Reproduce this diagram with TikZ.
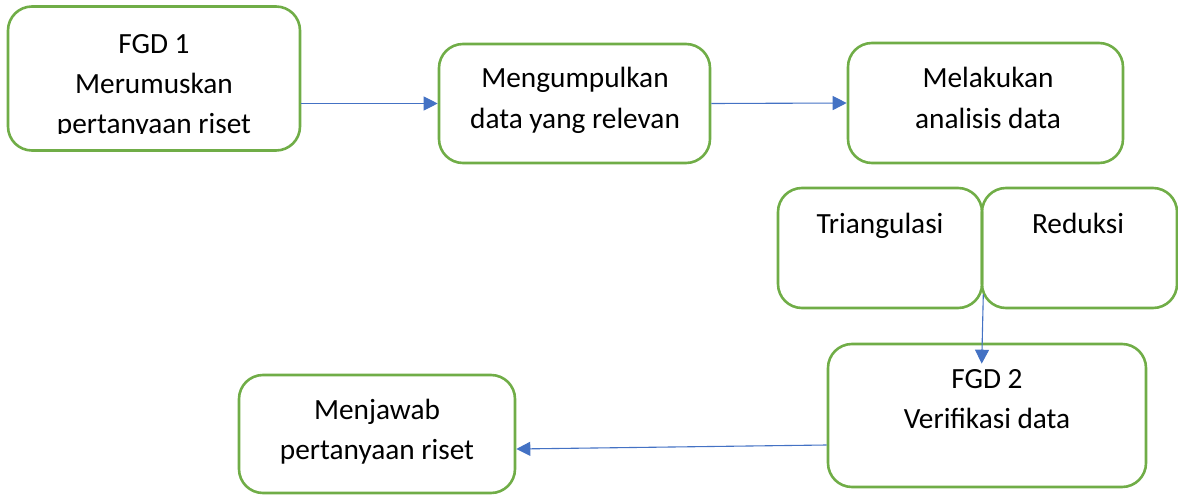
\documentclass[tikz,border=0pt]{standalone}
\usepackage{fontspec}
\setmainfont{Carlito}
\usetikzlibrary{arrows.meta,calc}
\definecolor{boxgreen}{HTML}{70AD47}
\definecolor{flowblue}{HTML}{4472C4}
\begin{document}
\begin{tikzpicture}[x=1pt,y=-1pt,
  stepbox/.style={draw=boxgreen, line width=2.6pt, rounded corners=24pt, inner sep=0pt},
  % anchored at the baseline of the last line
  label text/.style={anchor=base, align=center, inner sep=0pt,
    font=\fontsize{29.3}{40}\selectfont},
  flow/.style={draw=flowblue, line width=1.1pt, -{Triangle[length=14pt,width=14pt]}}]
\useasboundingbox (0,0) rectangle (1178,495);

% boxes
\node (fgd1) [stepbox, minimum width=292pt, minimum height=144pt] at (154,78.5) {};
\node (collect) [stepbox, minimum width=271pt, minimum height=119pt] at (574.5,103.5) {};
\node (analyse) [stepbox, minimum width=275pt, minimum height=120pt] at (985.5,103) {};
\node (tri) [stepbox, minimum width=204pt, minimum height=120pt] at (880,248) {};
\node (red) [stepbox, minimum width=195pt, minimum height=120pt] at (1079.5,248) {};
\node (fgd2) [stepbox, minimum width=318pt, minimum height=143pt] at (987,415.5) {};
\node (answer) [stepbox, minimum width=276pt, minimum height=118pt] at (377,434) {};

% texts (the first box overflows and is cut at its third line)
\begin{scope}
  \clip (0,0) rectangle (1178,133.5);
  \node (fgd1T) [label text] at (154,133) {FGD 1\\Merumuskan\\pertanyaan riset};
\end{scope}
\node (collectT) [label text] at (575,128) {Mengumpulkan\\data yang relevan};
\node (analyseT) [label text] at (988,128) {Melakukan\\analisis data};
\node (triT) [label text] at (880,233) {Triangulasi};
\node (redT) [label text] at (1078,233) {Reduksi};
\node (fgd2T) [label text] at (987,428) {FGD 2\\Verifikasi data};
\node (answerT) [label text] at (377,459) {Menjawab\\pertanyaan riset};

% connectors
\coordinate (joinTop) at ($(tri.south east)+(0,-15)$);
\coordinate (fgd2Tip) at ($(fgd2.north west)+(155,21)$);
\draw[flow] (fgd1.east |- collect.west) -- (collect.west);
\draw[flow] (collect.east) -- (analyse.west);
\draw[flow] (joinTop) -- (fgd2Tip);
\draw[flow] ($(fgd2.west)+(0,29.5)$) -- ($(answer.east)+(0,15)$);
\end{tikzpicture}
\end{document}
